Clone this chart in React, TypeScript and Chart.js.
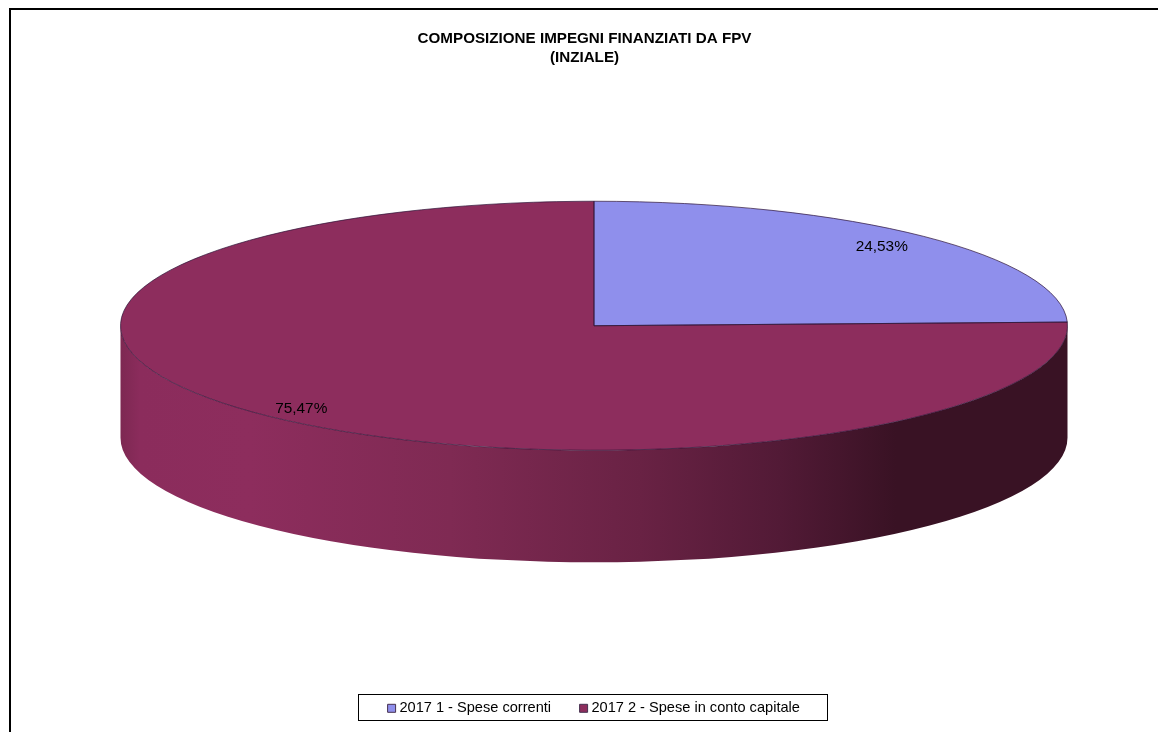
import React, { useEffect, useRef } from "react";
import { Chart, registerables } from "chart.js";

Chart.register(...registerables);

const categories = ["2017 1 - Spese correnti", "2017 2 - Spese in conto capitale"];
const shares = [24.53, 75.47];
const sliceColors = ["#8f8fec", "#8d2d5d"];
const titleLines = ["COMPOSIZIONE IMPEGNI FINANZIATI DA FPV", "(INZIALE)"];
const FONT = "'Liberation Sans', Arial, sans-serif";

const RX = 473.5;
const RY = 124.5;
const DEPTH = 112;
const SX = RX / RY;
const LABEL_RX = 0.88;
const LABEL_RY = 0.905;

const arcs = (chart: any) => chart.getDatasetMeta(0).data as any[];

const pie3d = {
  id: "pie3d",
  beforeDraw(chart: any) {
    const { ctx, width, height } = chart;
    ctx.save();
    ctx.fillStyle = "#ffffff";
    ctx.fillRect(0, 0, width, height);
    ctx.fillStyle = "#000000";
    ctx.fillRect(9, 8, width - 9, 2);
    ctx.fillRect(9, 8, 2, height - 8);
    ctx.restore();
  },
  afterLayout(chart: any) {
    const t = chart.titleBlock;
    t.left -= 9.5;
    t.right -= 9.5;
    const l = chart.legend;
    const h = l.bottom - l.top;
    l.top = 669;
    l.bottom = 669 + h;
    l.left += 1.5;
    l.right += 1.5;
  },
  beforeDatasetsDraw(chart: any) {
    const { ctx } = chart;
    const first = arcs(chart)[0];
    const cx = first.x;
    const cy = first.y;
    const grad = ctx.createLinearGradient(cx - RX, 0, cx + RX, 0);
    const stop = (x: number) => (x - (cx - RX)) / (2 * RX);
    grad.addColorStop(0, "#7d2852");
    grad.addColorStop(stop(140), "#8b2c5c");
    grad.addColorStop(stop(250), "#8d2d5d");
    grad.addColorStop(stop(450), "#7f2a53");
    grad.addColorStop(stop(640), "#692244");
    grad.addColorStop(stop(780), "#521a36");
    grad.addColorStop(stop(896), "#391224");
    grad.addColorStop(1, "#391224");
    arcs(chart).forEach((arc) => {
      const s = Math.max(arc.startAngle, 0);
      const e = Math.min(arc.endAngle, Math.PI);
      if (e <= s) return;
      ctx.save();
      ctx.beginPath();
      ctx.ellipse(cx, cy, RX, RY, 0, s, e);
      ctx.ellipse(cx, cy + DEPTH, RX, RY, 0, e, s, true);
      ctx.closePath();
      ctx.fillStyle = grad;
      ctx.fill();
      ctx.restore();
    });
    ctx.save();
    ctx.translate(cx, cy);
    ctx.scale(SX, 1);
    ctx.translate(-cx, -cy);
  },
  afterDatasetsDraw(chart: any) {
    const { ctx } = chart;
    ctx.restore();
    arcs(chart).forEach((arc, i) => {
      const cx = arc.x;
      const cy = arc.y;
      ctx.save();
      ctx.beginPath();
      ctx.moveTo(cx, cy);
      ctx.ellipse(cx, cy, RX, RY, 0, arc.startAngle, arc.endAngle);
      ctx.closePath();
      ctx.lineWidth = 1;
      ctx.strokeStyle = "rgba(45,20,55,0.7)";
      ctx.stroke();
      ctx.restore();
      const mid = (arc.startAngle + arc.endAngle) / 2;
      ctx.save();
      ctx.fillStyle = "#000000";
      ctx.font = `15.4px ${FONT}`;
      ctx.textAlign = "center";
      ctx.textBaseline = "middle";
      ctx.fillText(
        shares[i].toFixed(2).replace(".", ",") + "%",
        cx - 2.5 + LABEL_RX * RX * Math.cos(mid),
        cy + 2 + LABEL_RY * RY * Math.sin(mid)
      );
      ctx.restore();
    });
  },
  afterDraw(chart: any) {
    const { ctx } = chart;
    ctx.save();
    ctx.strokeStyle = "#000000";
    ctx.lineWidth = 1;
    ctx.strokeRect(358.5, 694.5, 469, 26);
    ctx.restore();
  },
};

export default function App() {
  const ref = useRef<HTMLCanvasElement | null>(null);
  useEffect(() => {
    const chart = new Chart(ref.current as HTMLCanvasElement, {
      type: "pie",
      data: {
        labels: categories,
        datasets: [
          {
            data: shares,
            backgroundColor: sliceColors,
            borderWidth: 0,
            radius: RY,
          },
        ],
      },
      options: {
        animation: false,
        responsive: false,
        layout: { padding: { left: 30, top: 0, right: 0, bottom: 91 } },
        plugins: {
          title: {
            display: true,
            text: titleLines,
            color: "#000000",
            font: { family: FONT, size: 15.2, weight: "bold", lineHeight: 1.22 },
            padding: { top: 30, bottom: 0 },
          },
          legend: {
            display: true,
            position: "bottom",
            labels: {
              color: "#000000",
              font: { family: FONT, size: 14.6 },
              usePointStyle: true,
              pointStyle: "rect",
              boxWidth: 1,
              boxHeight: 8,
              padding: 32,
              generateLabels: (chart: any) =>
                (Chart as any).overrides.pie.plugins.legend.labels
                  .generateLabels(chart)
                  .map((item: any) => ({
                    ...item,
                    lineWidth: 1,
                    strokeStyle: "#45304f",
                  })),
            },
          },
          tooltip: { enabled: false },
        },
      },
      plugins: [pie3d],
    } as any);
    return () => chart.destroy();
  }, []);
  return (
    <canvas
      ref={ref}
      width={1158}
      height={732}
      style={{ position: "absolute", left: 0, top: 0, display: "block" }}
    />
  );
}
